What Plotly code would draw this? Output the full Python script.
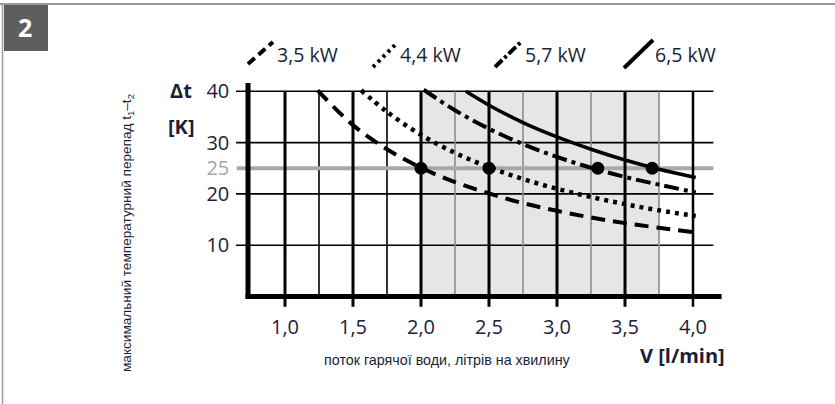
import plotly.graph_objects as go

W, H = 835, 404

# ---------------- data ----------------
V_35 = [1.24, 1.5, 1.75, 2.0, 2.25, 2.5, 2.75, 3.0, 3.25, 3.5, 3.75, 4.02]
T_35 = [40.2, 33.4, 28.7, 25.1, 22.3, 20.1, 18.2, 16.7, 15.4, 14.3, 13.4, 12.5]
V_44 = [1.56, 1.75, 2.0, 2.25, 2.5, 2.75, 3.0, 3.25, 3.5, 3.75, 4.02]
T_44 = [40.2, 36.0, 31.5, 28.0, 25.2, 22.9, 21.0, 19.4, 18.0, 16.8, 15.7]
V_57 = [2.02, 2.25, 2.5, 2.75, 3.0, 3.25, 3.5, 3.75, 4.02]
T_57 = [40.3, 36.3, 32.7, 29.7, 27.2, 25.1, 23.3, 21.8, 20.3]
V_65 = [2.33, 2.5, 2.75, 3.0, 3.25, 3.5, 3.75, 4.02]
T_65 = [40.0, 37.3, 33.9, 31.1, 28.7, 26.6, 24.8, 23.2]
DOT_V = [2.0, 2.5, 3.3, 3.7]
DOT_T = [25, 25, 25, 25]

SERIES_NAMES = ["3,5 kW", "4,4 kW", "5,7 kW", "6,5 kW"]
X_TICKS = [1.0, 1.5, 2.0, 2.5, 3.0, 3.5, 4.0]
X_TICK_TEXT = ["1,0", "1,5", "2,0", "2,5", "3,0", "3,5", "4,0"]
X_MINOR = [1.25, 1.75, 2.25, 2.75, 3.25, 3.75]
Y_GRID = [10, 20, 30, 40]
Y_TICKS = [10, 20, 25, 30, 40]
Y_TICK_TEXT = ["10", "20", "<span style='color:#a6a6a6'>25</span>", "30", "40"]
LIMIT_T = 25
SHADE_V = [2.0, 3.75]

# ---------------- geometry ----------------
XR = [0.62, 4.30]
YR = [-3.0, 42.5]
X0PX, XU = 149.0, 136.0
Y0PX, YU = 296.5, 5.13
xd = [(X0PX + XU * XR[0]) / W, (X0PX + XU * XR[1]) / W]
yd = [(H - (Y0PX - YU * YR[0])) / H, (H - (Y0PX - YU * YR[1])) / H]

TXT = "#1b1e36"
FONT = "Open Sans"

def px(x, y):
    return x / W, 1 - y / H

fig = go.Figure()

dash_styles = ["14px,8px", "4px,5px", "15px,5px,4px,5px", "solid"]
widths = [4, 4.5, 4, 3.5]
for name, xs, ys, d, w in zip(SERIES_NAMES, [V_35, V_44, V_57, V_65],
                              [T_35, T_44, T_57, T_65], dash_styles, widths):
    fig.add_trace(go.Scatter(x=xs, y=ys, mode="lines", name=name,
                             line=dict(color="black", width=w, dash=d, shape="spline"),
                             showlegend=False, hoverinfo="skip"))

fig.add_trace(go.Scatter(x=DOT_V, y=DOT_T, mode="markers",
                         marker=dict(color="black", size=13), showlegend=False))

shapes = []
shapes.append(dict(type="rect", xref="x", yref="y", x0=SHADE_V[0], x1=SHADE_V[1],
                   y0=0, y1=40, fillcolor="#e6e6e6", line=dict(width=0), layer="below"))
for yv in Y_GRID:
    shapes.append(dict(type="line", xref="x", yref="y", x0=0.64, x1=4.15, y0=yv, y1=yv,
                       line=dict(color="black", width=1.6), layer="below"))
for xv in X_MINOR:
    inside = SHADE_V[0] < xv <= SHADE_V[1]
    shapes.append(dict(type="line", xref="x", yref="y", x0=xv, x1=xv, y0=0, y1=40,
                       line=dict(color="#8c8c8c" if inside else "black", width=1.6),
                       layer="below"))
shapes.append(dict(type="line", xref="x", yref="y", x0=0.645, x1=4.15, y0=LIMIT_T, y1=LIMIT_T,
                   line=dict(color="#a8a8a8", width=4), layer="below"))
for xv in X_TICKS:
    shapes.append(dict(type="line", xref="x", yref="y", x0=xv, x1=xv, y0=-2.0, y1=40,
                       line=dict(color="black", width=2.5 if xv == 4.0 else 3), layer="below"))
shapes.append(dict(type="line", xref="x", yref="y", x0=0.728, x1=0.728, y0=-0.45, y1=41.6,
                   line=dict(color="black", width=5), layer="below"))
shapes.append(dict(type="line", xref="x", yref="y", x0=0.71, x1=4.21, y0=0, y1=0,
                   line=dict(color="black", width=5), layer="below"))

# page frame
shapes.append(dict(type="line", xref="paper", yref="paper", x0=0, x1=1,
                   y0=px(0, 4)[1], y1=px(0, 4)[1], line=dict(color="#9a9a9a", width=2)))
shapes.append(dict(type="line", xref="paper", yref="paper", x0=px(2.5, 0)[0], x1=px(2.5, 0)[0],
                   y0=0, y1=px(0, 4)[1], line=dict(color="#9a9a9a", width=1.5)))
bx0, by0 = px(4, 5)
bx1, by1 = px(48, 51)
shapes.append(dict(type="rect", xref="paper", yref="paper", x0=bx0, x1=bx1, y0=by1, y1=by0,
                   fillcolor="#5e5e5e", line=dict(width=0)))

# legend glyphs
leg = [((248, 64), (273, 42)), ((373, 67), (396, 44)), ((495, 67), (522, 41)), ((624, 68), (653, 40))]
leg_dash = ["9px,5px", "3px,4px", "10px,3px,3px,3px", "solid"]
for (p0, p1), d in zip(leg, leg_dash):
    a0, b0 = px(*p0)
    a1, b1 = px(*p1)
    shapes.append(dict(type="line", xref="paper", yref="paper", x0=a0, y0=b0, x1=a1, y1=b1,
                       line=dict(color="black", width=4, dash=d)))

annotations = []
leg_text_x = [275, 398, 523, 653]
for name, tx in zip(SERIES_NAMES, leg_text_x):
    ax, ay = px(tx, 54)
    annotations.append(dict(xref="paper", yref="paper", x=ax, y=ay, text=name, showarrow=False,
                            xanchor="left", yanchor="middle",
                            font=dict(family=FONT, size=19.5, color=TXT)))

def ann(x, y, text, size, bold=False, xanchor="center", color=TXT, angle=0, family=FONT):
    ax, ay = px(x, y)
    annotations.append(dict(xref="paper", yref="paper", x=ax, y=ay,
                            text=f"<b>{text}</b>" if bold else text, showarrow=False,
                            xanchor=xanchor, yanchor="middle", textangle=angle,
                            font=dict(family=family, size=size, color=color)))

ann(25, 27, "2", 25, bold=True, color="white")
ann(181, 91, "Δt", 20, bold=True)
ann(181, 126, "[K]", 20, bold=True)
ann(727, 355, "V [l/min]", 20, bold=True, xanchor="right")
ann(447, 360, "поток гарячої води, літрів на хвилину", 14.3, family="Liberation Sans")
ann(128, 233, "максимальний температурний перепад t<sub>1</sub>–t<sub>2</sub>", 13.6,
    angle=-90, family="Liberation Sans")

fig.update_layout(
    width=W, height=H, margin=dict(l=0, r=0, t=0, b=0),
    paper_bgcolor="white", plot_bgcolor="white",
    shapes=shapes, annotations=annotations,
    xaxis=dict(domain=xd, range=XR, showgrid=False, zeroline=False, showline=False,
               tickvals=X_TICKS, ticktext=X_TICK_TEXT, ticks="", ticklabelstandoff=1,
               tickfont=dict(family=FONT, size=20, color=TXT), fixedrange=True),
    yaxis=dict(domain=yd, range=YR, showgrid=False, zeroline=False, showline=False,
               tickvals=Y_TICKS, ticktext=Y_TICK_TEXT, ticks="", ticklabelstandoff=3,
               tickfont=dict(family=FONT, size=20, color=TXT), fixedrange=True),
)

fig.write_html("out.html", config={"displayModeBar": False},
               post_script="document.body.style.margin='0';")
